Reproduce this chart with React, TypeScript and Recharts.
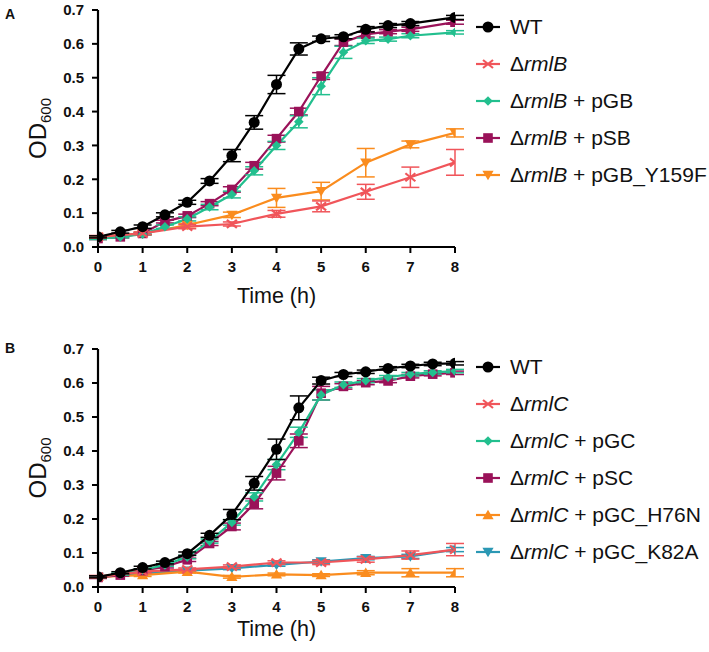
import React from 'react';
import { LineChart, Line, XAxis, YAxis, ErrorBar, Legend } from 'recharts';

// ---------- Data: panel A ----------
const timeHalfA = [0, 0.5, 1, 1.5, 2, 2.5, 3, 3.5, 4, 4.5, 5, 5.5, 6, 6.5, 7, 8];
const timeInt = [0, 1, 2, 3, 4, 5, 6, 7, 8];

const wtA = [0.03, 0.045, 0.06, 0.095, 0.132, 0.195, 0.27, 0.368, 0.48, 0.585, 0.615, 0.621, 0.643, 0.654, 0.66, 0.678];
const wtAErr = [0.003, 0.004, 0.005, 0.006, 0.006, 0.007, 0.018, 0.02, 0.027, 0.018, 0.008, 0.006, 0.008, 0.006, 0.006, 0.006];
const rmlB = [0.03, 0.04, 0.06, 0.068, 0.098, 0.12, 0.163, 0.206, 0.25];
const rmlBErr = [0.004, 0.004, 0.006, 0.006, 0.01, 0.016, 0.022, 0.03, 0.038];
const pGB = [0.025, 0.03, 0.038, 0.06, 0.083, 0.118, 0.155, 0.225, 0.3, 0.37, 0.475, 0.575, 0.609, 0.614, 0.624, 0.634];
const pGBErr = [0.003, 0.003, 0.003, 0.005, 0.006, 0.008, 0.01, 0.012, 0.012, 0.018, 0.025, 0.018, 0.008, 0.006, 0.006, 0.005];
const pSB = [0.025, 0.03, 0.04, 0.075, 0.092, 0.128, 0.17, 0.24, 0.32, 0.4, 0.505, 0.605, 0.628, 0.636, 0.643, 0.664];
const pSBErr = [0.003, 0.003, 0.003, 0.004, 0.005, 0.006, 0.008, 0.01, 0.01, 0.01, 0.01, 0.01, 0.008, 0.006, 0.006, 0.006];
const y159F = [0.03, 0.04, 0.065, 0.095, 0.145, 0.165, 0.249, 0.303, 0.337];
const y159FErr = [0.003, 0.004, 0.005, 0.008, 0.028, 0.026, 0.042, 0.01, 0.012];

// ---------- Data: panel B ----------
const timeHalfB = [0, 0.5, 1, 1.5, 2, 2.5, 3, 3.5, 4, 4.5, 5, 5.5, 6, 6.5, 7, 7.5, 8];

const wtB = [0.03, 0.042, 0.057, 0.072, 0.098, 0.152, 0.213, 0.305, 0.405, 0.527, 0.607, 0.625, 0.633, 0.643, 0.65, 0.656, 0.658];
const wtBErr = [0.003, 0.003, 0.004, 0.004, 0.005, 0.006, 0.015, 0.02, 0.03, 0.035, 0.01, 0.006, 0.005, 0.005, 0.005, 0.005, 0.005];
const rmlC = [0.03, 0.045, 0.052, 0.06, 0.072, 0.072, 0.081, 0.094, 0.11];
const rmlCErr = [0.004, 0.004, 0.004, 0.005, 0.005, 0.006, 0.008, 0.012, 0.018];
const pGC = [0.03, 0.038, 0.05, 0.065, 0.088, 0.135, 0.19, 0.265, 0.36, 0.455, 0.565, 0.595, 0.607, 0.617, 0.626, 0.631, 0.635];
const pGCErr = [0.003, 0.003, 0.003, 0.004, 0.005, 0.006, 0.008, 0.012, 0.015, 0.015, 0.015, 0.008, 0.006, 0.005, 0.005, 0.005, 0.005];
const pSC = [0.028, 0.035, 0.048, 0.06, 0.08, 0.128, 0.178, 0.245, 0.335, 0.43, 0.57, 0.59, 0.601, 0.606, 0.62, 0.626, 0.63];
const pSCErr = [0.003, 0.003, 0.003, 0.004, 0.005, 0.006, 0.01, 0.015, 0.02, 0.02, 0.02, 0.008, 0.006, 0.005, 0.005, 0.005, 0.005];
const h76N = [0.03, 0.035, 0.045, 0.03, 0.037, 0.035, 0.042, 0.042, 0.042];
const h76NErr = [0.003, 0.004, 0.004, 0.004, 0.004, 0.004, 0.006, 0.012, 0.012];
const k82A = [0.03, 0.04, 0.048, 0.055, 0.065, 0.075, 0.085, 0.09, 0.11];
const k82AErr = [0.003, 0.003, 0.004, 0.004, 0.004, 0.005, 0.005, 0.006, 0.006];

const yTicks = [0, 0.1, 0.2, 0.3, 0.4, 0.5, 0.6, 0.7];
const xTicks = [0, 1, 2, 3, 4, 5, 6, 7, 8];

const FONT = 'Liberation Sans, Arial, Helvetica, sans-serif';

const toRows = (xs: number[], ys: number[], es: number[]) =>
  xs.map((t, i) => ({ t, v: ys[i], err: es[i] }));

type Shape = 'circle' | 'cross' | 'diamond' | 'square' | 'tdown' | 'tup';

function marker(shape: Shape, color: string, cx: number, cy: number, key?: any) {
  switch (shape) {
    case 'circle':
      return <circle key={key} cx={cx} cy={cy} r={5.5} fill={color} />;
    case 'cross': {
      const s = 5;
      return (
        <g key={key} stroke={color} strokeWidth={2.2}>
          <line x1={cx - s} y1={cy - s * 0.8} x2={cx + s} y2={cy + s * 0.8} />
          <line x1={cx - s} y1={cy + s * 0.8} x2={cx + s} y2={cy - s * 0.8} />
        </g>
      );
    }
    case 'diamond': {
      const s = 4.8;
      return <polygon key={key} points={`${cx},${cy - s} ${cx + s},${cy} ${cx},${cy + s} ${cx - s},${cy}`} fill={color} />;
    }
    case 'square': {
      const s = 4.8;
      return <rect key={key} x={cx - s} y={cy - s} width={2 * s} height={2 * s} fill={color} />;
    }
    case 'tdown': {
      const s = 5.6;
      return <polygon key={key} points={`${cx - s},${cy - s * 0.75} ${cx + s},${cy - s * 0.75} ${cx},${cy + s * 0.95}`} fill={color} />;
    }
    case 'tup': {
      const s = 5.6;
      return <polygon key={key} points={`${cx - s},${cy + s * 0.75} ${cx + s},${cy + s * 0.75} ${cx},${cy - s * 0.95}`} fill={color} />;
    }
  }
  return null;
}

const makeDot = (shape: Shape, color: string) => (props: any) => {
  const { cx, cy, index } = props;
  if (cx == null || cy == null) return <g key={`d${index}`} />;
  return marker(shape, color, cx, cy, `d${index}`);
};

type Series = {
  id: string;
  rows: { t: number; v: number; err: number }[];
  color: string;
  shape: Shape;
  gene: string;
  suffix: string;
  plain?: string;
  width: number;
};

const BLACK = '#000000';
const RED = '#F0555A';
const GREEN = '#22BF8E';
const PURPLE = '#9A1259';
const ORANGE = '#FA8C1E';
const TEAL = '#2B98B4';

const seriesA: Series[] = [
  { id: 'wt', rows: toRows(timeHalfA, wtA, wtAErr), color: BLACK, shape: 'circle', gene: '', suffix: '', plain: 'WT', width: 2.2 },
  { id: 'rmlB', rows: toRows(timeInt, rmlB, rmlBErr), color: RED, shape: 'cross', gene: 'rmlB', suffix: '', width: 2.2 },
  { id: 'pGB', rows: toRows(timeHalfA, pGB, pGBErr), color: GREEN, shape: 'diamond', gene: 'rmlB', suffix: ' + pGB', width: 2.2 },
  { id: 'pSB', rows: toRows(timeHalfA, pSB, pSBErr), color: PURPLE, shape: 'square', gene: 'rmlB', suffix: ' + pSB', width: 2.2 },
  { id: 'y159F', rows: toRows(timeInt, y159F, y159FErr), color: ORANGE, shape: 'tdown', gene: 'rmlB', suffix: ' + pGB_Y159F', width: 2.2 },
];

const seriesB: Series[] = [
  { id: 'wt', rows: toRows(timeHalfB, wtB, wtBErr), color: BLACK, shape: 'circle', gene: '', suffix: '', plain: 'WT', width: 2.2 },
  { id: 'rmlC', rows: toRows(timeInt, rmlC, rmlCErr), color: RED, shape: 'cross', gene: 'rmlC', suffix: '', width: 2.2 },
  { id: 'pGC', rows: toRows(timeHalfB, pGC, pGCErr), color: GREEN, shape: 'diamond', gene: 'rmlC', suffix: ' + pGC', width: 2.2 },
  { id: 'pSC', rows: toRows(timeHalfB, pSC, pSCErr), color: PURPLE, shape: 'square', gene: 'rmlC', suffix: ' + pSC', width: 2.2 },
  { id: 'h76N', rows: toRows(timeInt, h76N, h76NErr), color: ORANGE, shape: 'tup', gene: 'rmlC', suffix: ' + pGC_H76N', width: 2.2 },
  { id: 'k82A', rows: toRows(timeInt, k82A, k82AErr), color: TEAL, shape: 'tdown', gene: 'rmlC', suffix: ' + pGC_K82A', width: 2.2 },
];

const LegendBox = ({ series }: { series: Series[] }) => (
  <div style={{ fontFamily: FONT, fontSize: 21, color: '#111' }}>
    {series.map((s) => (
      <div key={s.id} style={{ height: 37, display: 'flex', alignItems: 'center', whiteSpace: 'nowrap' }}>
        <svg width={30} height={16} style={{ flex: 'none' }}>
          <line x1={1} y1={8} x2={25} y2={8} stroke={s.color} strokeWidth={2.2} />
          {marker(s.shape, s.color, 13, 8)}
        </svg>
        <span style={{ marginLeft: 5 }}>
          {s.plain ? (
            s.plain
          ) : (
            <>
              {'Δ'}
              <i>{s.gene}</i>
              {s.suffix}
            </>
          )}
        </span>
      </div>
    ))}
  </div>
);

const ODLabel = (props: any) => {
  const vb = props.viewBox || {};
  const cx = vb.x + 38;
  const cy = vb.y + vb.height / 2;
  return (
    <text
      x={0}
      y={0}
      transform={`translate(${cx + 8}, ${cy}) rotate(-90)`}
      textAnchor="middle"
      fontFamily={FONT}
      fontSize={24}
      fill="#111"
    >
      <tspan>OD</tspan>
      <tspan fontSize={15} dy={5}>600</tspan>
    </text>
  );
};

const Panel = ({
  series,
  height,
  marginTop,
  xAxisHeight,
  labelOffset,
  legendTop,
}: {
  series: Series[];
  height: number;
  marginTop: number;
  xAxisHeight: number;
  labelOffset: number;
  legendTop: number;
}) => {
  const tickStyle = { fontFamily: FONT, fontSize: 15, fontWeight: 700, fill: '#111' };
  const drawOrder = [...series].reverse();
  return (
    <LineChart width={709} height={height} margin={{ top: marginTop, right: 254, bottom: 0, left: 0 }}>
      <XAxis
        type="number"
        dataKey="t"
        domain={[0, 8]}
        ticks={xTicks}
        allowDataOverflow
        height={xAxisHeight}
        stroke="#000"
        axisLine={{ stroke: '#000', strokeWidth: 2.2 }}
        tickLine={{ stroke: '#000', strokeWidth: 2 }}
        tickSize={6}
        tickMargin={8}
        tick={tickStyle}
        label={{ value: 'Time (h)', position: 'insideBottom', offset: labelOffset, style: { fontFamily: FONT, fontSize: 21.5, fill: '#111' } }}
      />
      <YAxis
        type="number"
        domain={[0, 0.7]}
        ticks={yTicks}
        width={98}
        axisLine={{ stroke: '#000', strokeWidth: 2.2 }}
        tickLine={{ stroke: '#000', strokeWidth: 2 }}
        tickSize={6}
        tickMargin={8}
        tick={tickStyle}
        tickFormatter={(v: number) => v.toFixed(1)}
        label={<ODLabel />}
      />
      {drawOrder.map((s) => (
        <Line
          key={s.id}
          data={s.rows}
          dataKey="v"
          stroke={s.color}
          strokeWidth={s.width}
          dot={makeDot(s.shape, s.color)}
          activeDot={false}
          isAnimationActive={false}
          type="linear"
        >
          <ErrorBar dataKey="err" width={9} stroke={s.color} strokeWidth={1.5} direction="y" />
        </Line>
      ))}
      <Legend
        layout="vertical"
        align="center"
        verticalAlign="middle"
        wrapperStyle={{ left: 475, top: legendTop, width: 260 }}
        content={() => <LegendBox series={series} />}
      />
    </LineChart>
  );
};

export default function App() {
  return (
    <div style={{ position: 'absolute', left: 0, top: 0, width: 709, height: 652, overflow: 'hidden', background: '#fff' }}>
      <div style={{ position: 'absolute', left: 0, top: 0 }}>
        <Panel series={seriesA} height={326} marginTop={10} xAxisHeight={79} labelOffset={23} legendTop={8} />
      </div>
      <div style={{ position: 'absolute', left: 0, top: 326 }}>
        <Panel series={seriesB} height={326} marginTop={23} xAxisHeight={65} labelOffset={16} legendTop={22} />
      </div>
      <div style={{ position: 'absolute', left: 5, top: 6, fontFamily: FONT, fontWeight: 700, fontSize: 14, color: '#111' }}>A</div>
      <div style={{ position: 'absolute', left: 5, top: 340, fontFamily: FONT, fontWeight: 700, fontSize: 14, color: '#111' }}>B</div>
    </div>
  );
}
